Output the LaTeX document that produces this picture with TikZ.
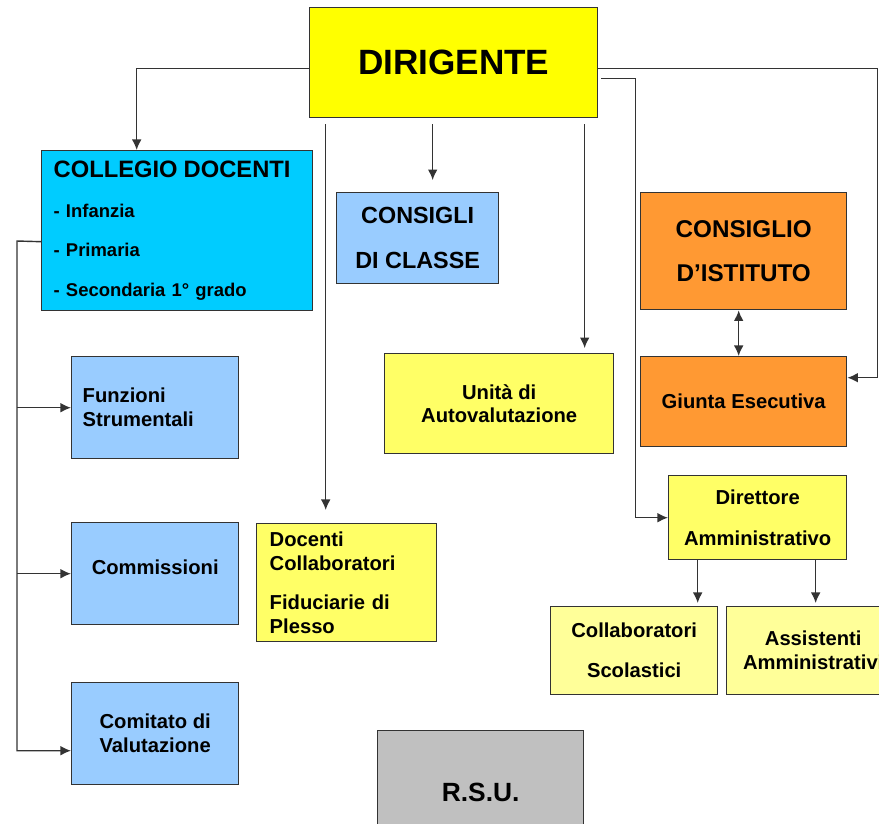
\documentclass[tikz,border=0pt]{standalone}
\usepackage{fontspec}
\setmainfont{Liberation Sans}
\usetikzlibrary{arrows.meta}
\definecolor{giallo}{RGB}{255,255,0}
\definecolor{cielo}{RGB}{0,204,255}
\definecolor{azzurro}{RGB}{153,204,255}
\definecolor{arancio}{RGB}{255,153,51}
\definecolor{giallino}{RGB}{255,255,102}
\definecolor{crema}{RGB}{255,255,153}
\definecolor{grigio}{RGB}{192,192,192}
\begin{document}
\begin{tikzpicture}[x = 0.02cm, y = -0.02cm,
   >= {Latex[length = 6pt, width = 5.5pt]},
   box/.style = {draw = black!80, line width = 0.8pt, inner sep = 0pt, anchor = north west, align = center},
   testo/.style = {font = \bfseries\fontsize{11.5}{13.6}\selectfont},
   lin/.style = {draw = black!80, line width = 0.8pt},
   arr/.style = {lin, ->}]
   \useasboundingbox (0,0) rectangle (879,823);
   \node[box, fill = giallo, minimum width = 5.76cm, minimum height = 2.2cm] (dir) at (309,7) {\bfseries\fontsize{20}{24}\selectfont DIRIGENTE};
   \node[box, fill = cielo, align = left, text width = 4.94cm, inner xsep = 0.24cm, minimum height = 3.2cm, font = \bfseries\fontsize{10.5}{22.7}\selectfont] (coll) at (41,150) {{\fontsize{13.5}{16}\selectfont COLLEGIO DOCENTI}\\- Infanzia\\- Primaria\\- Secondaria 1° grado};
   \node[box, testo, fill = azzurro, align = left, text width = 2.9cm, inner xsep = 0.22cm, minimum height = 2.04cm] (fun) at (71,356) {Funzioni\\Strumentali};
   \node[box, testo, fill = azzurro, minimum width = 3.34cm, minimum height = 2.04cm] (cms) at (71,522) {\raisebox{0.28cm}{Commissioni}};
   \node[box, testo, fill = azzurro, minimum width = 3.34cm, minimum height = 2.04cm] (com) at (71,682) {Comitato di\\Valutazione};
   \node[box, fill = azzurro, minimum width = 3.24cm, minimum height = 1.82cm, font = \bfseries\fontsize{13.3}{25.5}\selectfont] (cdc) at (336,192) {CONSIGLI\\DI CLASSE};
   \node[box, testo, fill = giallino, align = left, text width = 3.08cm, inner xsep = 0.26cm, minimum height = 2.36cm] (doc) at (256,523) {Docenti\\Collaboratori\\[9pt]Fiduciarie di\\Plesso};
   \node[box, testo, fill = giallino, minimum width = 4.58cm, minimum height = 2cm] (uni) at (384,353) {Unità di\\Autovalutazione};
   \node[box, fill = arancio, minimum width = 4.12cm, minimum height = 2.34cm, font = \bfseries\fontsize{13.8}{25.5}\selectfont] (cdi) at (640,192) {CONSIGLIO\\D’ISTITUTO};
   \node[box, testo, fill = arancio, minimum width = 4.12cm, minimum height = 1.8cm] (giu) at (640,356) {Giunta Esecutiva};
   \node[box, fill = giallino, minimum width = 3.56cm, minimum height = 1.68cm, font = \bfseries\fontsize{11.5}{23.2}\selectfont] (dam) at (668,475) {Direttore\\Amministrativo};
   \node[box, fill = crema, minimum width = 3.34cm, minimum height = 1.76cm, font = \bfseries\fontsize{11.5}{22.7}\selectfont] (col) at (550,606) {Collaboratori\\Scolastici};
   \node[box, testo, fill = crema, minimum width = 3.46cm, minimum height = 1.76cm] (ass) at (726,606) {Assistenti\\Amministrativi};
   \node[box, fill = grigio, minimum width = 4.12cm, minimum height = 2.46cm] (rsu) at (377,730) {\bfseries\fontsize{15}{18}\selectfont R.S.U.};
   \coordinate (bus) at (17,241);
   \coordinate (d1) at ([xshift = -2.56cm]dir.south);
   \coordinate (d2) at ([xshift = -0.42cm]dir.south);
   \coordinate (d3) at ([xshift = 2.62cm]dir.south);
   \coordinate (d4) at ([xshift = -1.2cm]dam.south);
   \coordinate (d5) at ([xshift = 1.16cm]dam.south);
   \draw[arr] ([yshift = -0.12cm]dir.west) -| ([xshift = -0.81cm]coll.north);
   \draw[arr] ([yshift = -0.22cm]coll.west) -- (bus) |- ([yshift = -0.34cm]com.west);
   \draw[arr] (bus |- fun.west) -- (fun.west);
   \draw[arr] (bus |- cms.west) -- (cms.west);
   \draw[arr, shorten <= 3.4pt, shorten >= 7.4pt] (d1) -- (d1 |- doc.north);
   \draw[arr, shorten <= 3.4pt, shorten >= 6.8pt] (d2) -- (d2 |- cdc.north);
   \draw[arr, shorten <= 3.4pt, shorten >= 2.8pt] (d3) -- (d3 |- uni.north);
   \draw[arr, shorten <= 1.7pt] ([yshift = -0.32cm]dir.east) -- ++(0.74cm,0) |- (dam.west);
   \draw[arr] ([yshift = -0.12cm]dir.east) -- ++(5.58cm,0) |- ([yshift = 0.48cm]giu.east);
   \draw[lin, <->] ([xshift = -0.1cm]cdi.south) -- ([xshift = -0.1cm]giu.north);
   \draw[arr, shorten >= 1.7pt] (d4) -- (d4 |- col.north);
   \draw[arr, shorten >= 1.7pt] (d5) -- (d5 |- ass.north);
\end{tikzpicture}
\end{document}
